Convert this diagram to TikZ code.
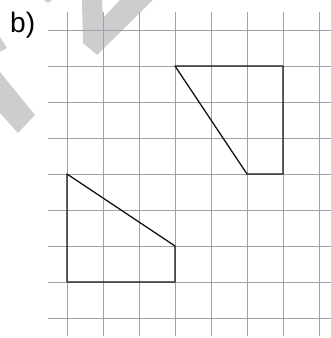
\documentclass[tikz,border=0pt]{standalone}
\usepackage{fontspec}
\setmainfont{Liberation Sans}
\definecolor{gridgrey}{RGB}{160,160,166}
\definecolor{markgrey}{RGB}{205,205,207}
\begin{document}
\begin{tikzpicture}[x=1.08cm, y=1.08cm]

		\useasboundingbox (-1.861,-1.556) rectangle (7.333,7.833);

		% watermark
		\begin{scope}[x=0.03cm, y=-0.03cm, shift={(-2.01cm,8.46cm)}]
		\fill[markgrey] (82,0) -- (83,43) -- (97,55) -- (153,0) -- (120,0) -- (103,18) -- (102,0) -- cycle;
		\fill[markgrey] (0,72) -- (35,115) -- (18,133) -- (0,113) -- cycle;
		\fill[markgrey] (0,37) -- (7,48) -- (0,52) -- cycle;
		\fill[markgrey] (44,0) -- (52,0) -- (48,3) -- cycle;
		\end{scope}

		\foreach \x in {0,...,7} {
		\draw[gridgrey, line width=0.8pt] (\x,-1.5) -- (\x,7.5);
		}
		\foreach \y in {-1,...,7} {
		\draw[gridgrey, line width=0.8pt] (-0.53,\y) -- (7.333,\y);
		}

		\node[anchor=base west, inner sep=0pt, font=\fontsize{24}{28}\selectfont] (lbl) at (-1.583,6.944) {b)};

		\draw[black!90, line width=1.1pt, line join=round] (3,6) -- (6,6) -- (6,3) -- (5,3) -- cycle;
		\draw[black!90, line width=1.1pt, line join=round] (0,3) -- (0,0) -- (3,0) -- (3,1) -- cycle;

	\end{tikzpicture}
\end{document}
